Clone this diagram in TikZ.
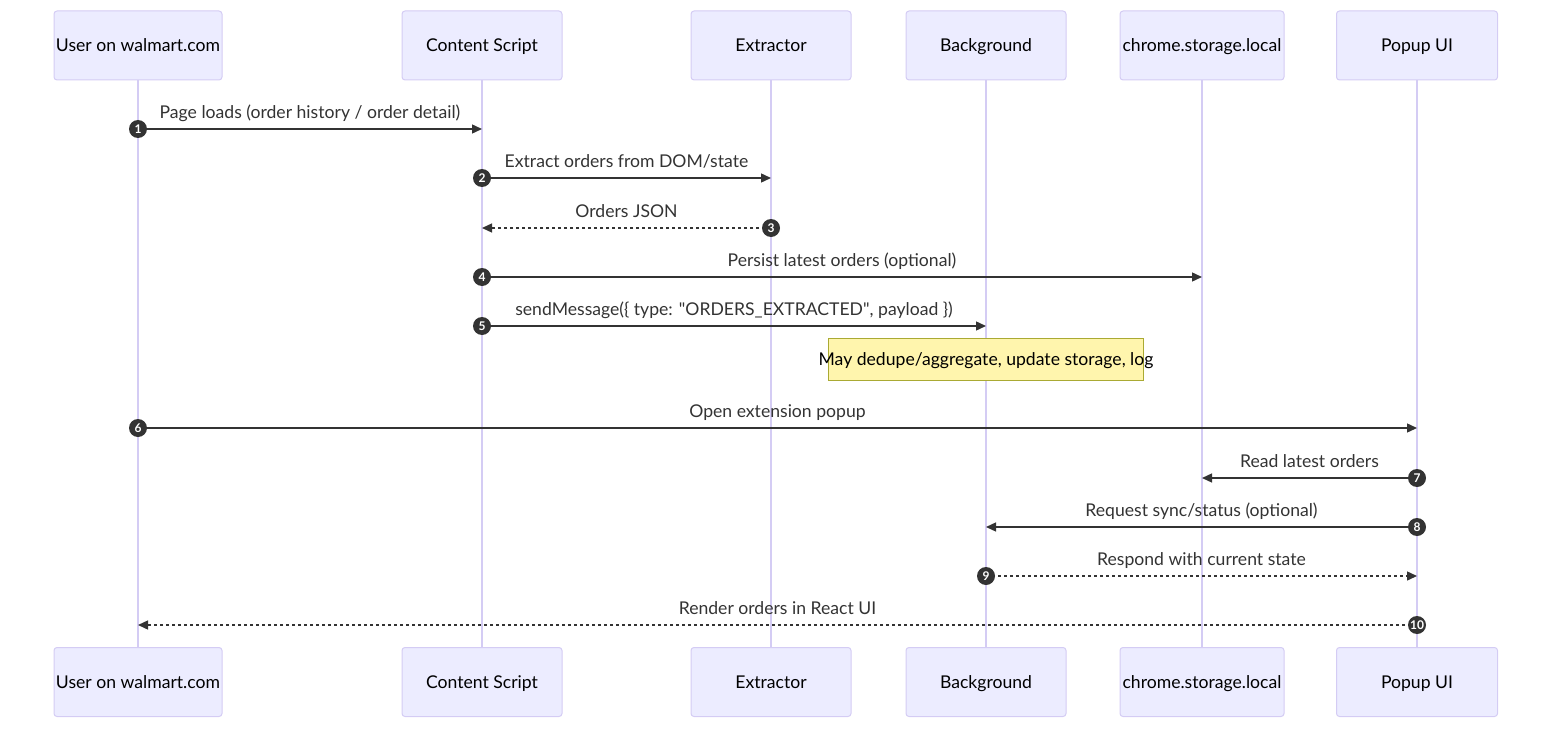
\documentclass[tikz,border=0pt]{standalone}
\usepackage{fontspec}
\setmainfont{Lato}
\usetikzlibrary{arrows.meta}
\definecolor{actorfill}{HTML}{ECECFF}
\definecolor{actorline}{HTML}{D4CCF4}
\definecolor{lifeline}{HTML}{D4CCF4}
\definecolor{msgline}{HTML}{333333}
\definecolor{notefill}{HTML}{FFF5AD}
\definecolor{noteline}{HTML}{AAAA33}
\tikzset{
  actor/.style={draw=actorline, fill=actorfill, rounded corners=3pt, line width=1pt,
    minimum width=160pt, minimum height=69pt, inner sep=0pt, text height=13pt, text depth=0pt,
    font=\fontsize{17.6}{21}\selectfont},
  life/.style={draw=lifeline, line width=1.5pt},
  msg/.style={draw=msgline, line width=1.4pt, -{Triangle[length=10pt,width=9pt]}},
  reply/.style={msg, dash pattern=on 3pt off 3pt},
  msglabel/.style={midway, above=6pt, inner sep=0pt, text height=12.5pt, text depth=3.5pt,
    text=msgline, font=\fontsize{17.6}{21}\selectfont},
  seqnum/.style={circle, fill=msgline, inner sep=0pt, minimum size=18pt, text=white,
    font=\fontsize{12}{12}\selectfont\bfseries},
  note/.style={draw=noteline, fill=notefill, minimum width=315pt, minimum height=42pt,
    inner sep=0pt, text height=13pt, text depth=0pt, font=\fontsize{17.6}{21}\selectfont}
}
\begin{document}
\begin{tikzpicture}[x=1pt, y=-1pt]
\useasboundingbox (0,0) rectangle (1568,738);
\foreach \name/\x/\w/\label in {user/138/168/{User on walmart.com}, content/482/160/{Content Script},
    extractor/771/160/{Extractor}, background/986/160/{Background},
    storage/1202/164/{chrome.storage.local}, popup/1417/161/{Popup UI}} {
  \node (\name) [actor, minimum width=\w pt] at (\x,45.5) {\label};
  \node (\name B) [actor, minimum width=\w pt] at (\x,682) {\label};
  \draw [life] (\name.south) -- (\name B.north);
}
\node (note) [note] at (986,359) {\makebox[315pt]{May dedupe/aggregate, update storage, log}};
\foreach \i/\a/\b/\y/\s/\t in {
    1/user/content/129/msg/{Page loads (order history / order detail)},
    2/content/extractor/178/msg/{Extract orders from DOM/state},
    3/extractor/content/228/reply/{Orders JSON},
    4/content/storage/277/msg/{Persist latest orders (optional)},
    5/content/background/326/msg/{sendMessage(\{ type: \textquotedbl ORDERS\_EXTRACTED\textquotedbl, payload \})},
    6/user/popup/428/msg/{Open extension popup},
    7/popup/storage/478/msg/{Read latest orders},
    8/popup/background/527/msg/{Request sync/status (optional)},
    9/background/popup/576/reply/{Respond with current state},
    10/popup/user/625/reply/{Render orders in React UI}} {
  \coordinate (from\i) at (\a.center |- 0,\y);
  \coordinate (to\i) at (\b.center |- 0,\y);
  \draw [\s] (from\i) -- (to\i) node [msglabel] {\t};
  \node (num\i) [seqnum] at (from\i) {\i};
}
\end{tikzpicture}
\end{document}
